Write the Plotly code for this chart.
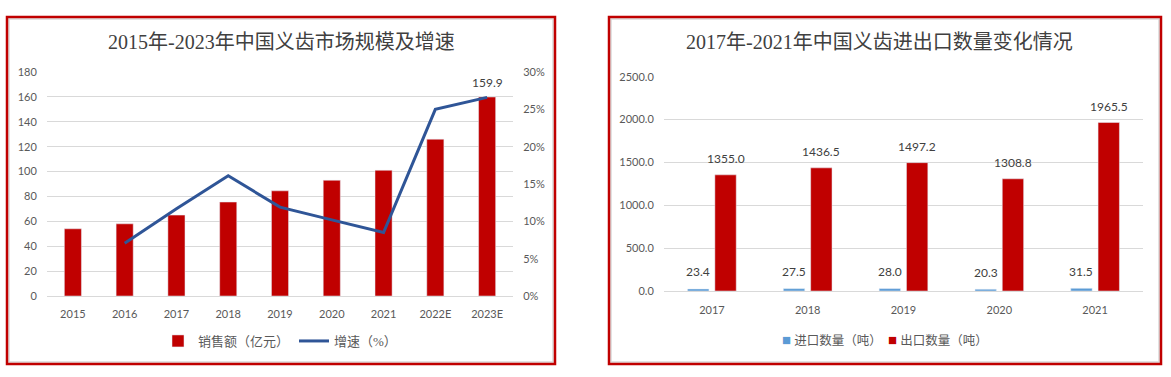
import plotly.graph_objects as go

# ---------------- data ----------------
years_left = ["2015", "2016", "2017", "2018", "2019", "2020", "2021", "2022E", "2023E"]
sales = [54, 58, 65, 75.5, 84.5, 93, 101, 126, 159.9]
growth = [None, 0.0705, 0.117, 0.161, 0.119, 0.102, 0.085, 0.250, 0.266]
sales_labels = ["", "", "", "", "", "", "101", "", "159.9"]

years_right = ["2017", "2018", "2019", "2020", "2021"]
imports = [23.4, 27.5, 28.0, 20.3, 31.5]
exports = [1355.0, 1436.5, 1497.2, 1308.8, 1965.5]

title_left = "2015年-2023年中国义齿市场规模及增速"
title_right = "2017年-2021年中国义齿进出口数量变化情况"
name_sales = "销售额（亿元）"
name_growth = "增速（%）"
name_import = "进口数量（吨）"
name_export = "出口数量（吨）"

# ---------------- styling ----------------
W, H = 1171, 377
RED = "#C00000"
BLUE_LINE = "#2F5597"
BLUE_BAR = "#5B9BD5"
GRID = "#D9D9D9"
TICK = "#595959"
TICKFONT = dict(family="Lato, Liberation Sans, sans-serif", size=11, color=TICK)
CJK = "Liberation Serif, Noto Sans CJK SC, serif"


def px(x):
    return x / W


def py(y):
    return 1 - y / H


fig = go.Figure()

# left chart
fig.add_trace(go.Bar(
    x=years_left, y=sales, name=name_sales, marker_color=RED,
    width=0.33, xaxis="x", yaxis="y", legend="legend",
))
fig.add_trace(go.Scatter(
    x=years_left, y=growth, name=name_growth, mode="lines",
    line=dict(color=BLUE_LINE, width=3), xaxis="x", yaxis="y2",
    legend="legend", connectgaps=False,
))

# right chart
fig.add_trace(go.Bar(
    x=years_right, y=imports, name=name_import, marker_color=BLUE_BAR,
    width=0.223, offset=-0.254, xaxis="x3", yaxis="y3", showlegend=False,
))
fig.add_trace(go.Bar(
    x=years_right, y=exports, name=name_export, marker_color=RED,
    width=0.223, offset=0.031, xaxis="x3", yaxis="y3", showlegend=False,
))

annotations = []
LABELFONT = dict(family=TICKFONT["family"], size=12, color="#404040")
# data labels left
for cat, val, lab in zip(years_left, sales, sales_labels):
    if lab:
        annotations.append(dict(x=cat, y=val, xref="x", yref="y", text=lab,
                                showarrow=False, yanchor="middle", yshift=15,
                                font=LABELFONT))
# data labels right
for i, cat in enumerate(years_right):
    annotations.append(dict(x=i - 0.1425, y=imports[i], xref="x3", yref="y3",
                            text=f"{imports[i]:.1f}", showarrow=False,
                            yanchor="middle", yshift=17, font=LABELFONT))
    annotations.append(dict(x=i + 0.1425, y=exports[i], xref="x3", yref="y3",
                            text=f"{exports[i]:.1f}", showarrow=False,
                            yanchor="middle", yshift=16, font=LABELFONT))

# titles
annotations.append(dict(x=px(281), y=py(42), xref="paper", yref="paper", text=title_left,
                        showarrow=False, xanchor="center", yanchor="middle",
                        font=dict(family=CJK, size=20, color="#404040")))
annotations.append(dict(x=px(879), y=py(42), xref="paper", yref="paper", text=title_right,
                        showarrow=False, xanchor="center", yanchor="middle",
                        font=dict(family=CJK, size=20, color="#404040")))

# compact legend for the right chart
for xpos, color, name in [(780, BLUE_BAR, name_import), (886, RED, name_export)]:
    annotations.append(dict(
        x=px(xpos), y=py(340), xref="paper", yref="paper", xanchor="left", yanchor="middle",
        showarrow=False,
        text=f'<span style="color:{color};font-size:15px">■</span> {name}',
        font=dict(family=CJK, size=12.5, color=TICK),
    ))

shapes = []
for x0, x1 in [(7, 555), (609, 1161)]:
    shapes.append(dict(type="rect", xref="paper", yref="paper",
                       x0=px(x0 + 2), x1=px(x1 - 2), y0=py(364 - 2), y1=py(17 + 2),
                       line=dict(color=GRID, width=1.5), fillcolor="rgba(0,0,0,0)", layer="below"))
    shapes.append(dict(type="rect", xref="paper", yref="paper",
                       x0=px(x0), x1=px(x1), y0=py(364), y1=py(17),
                       line=dict(color=RED, width=2.5), fillcolor="rgba(0,0,0,0)"))

axis_common = dict(showgrid=False, zeroline=False, tickfont=TICKFONT, fixedrange=True,
                   automargin=False)

fig.update_layout(
    width=W, height=H,
    margin=dict(l=0, r=0, t=0, b=0, pad=0, autoexpand=False),
    paper_bgcolor="white", plot_bgcolor="white",
    barmode="overlay",
    showlegend=True,
    xaxis=dict(domain=[px(47), px(513)], anchor="y", type="category",
               range=[-0.5, 8.5], showline=True, linecolor=GRID, linewidth=1,
               ticks="outside", ticklen=8, tickcolor="rgba(0,0,0,0)", **axis_common),
    yaxis=dict(domain=[py(296), py(72)], anchor="x", range=[0, 180], dtick=20,
               showgrid=True, gridcolor=GRID, gridwidth=1,
               ticks="outside", ticklen=7, tickcolor="rgba(0,0,0,0)",
               zeroline=False, tickfont=TICKFONT, fixedrange=True, automargin=False),
    yaxis2=dict(domain=[py(296), py(72)], anchor="x", overlaying="y", side="right",
                range=[0, 0.30], dtick=0.05, tickformat=".0%", showgrid=False,
                ticks="outside", ticklen=7, tickcolor="rgba(0,0,0,0)",
                zeroline=False, tickfont=TICKFONT, fixedrange=True, automargin=False),
    xaxis3=dict(domain=[px(664), px(1143)], anchor="y3", type="category",
                range=[-0.5, 4.5], showline=True, linecolor=GRID, linewidth=1,
                ticks="outside", ticklen=9, tickcolor="rgba(0,0,0,0)", **axis_common),
    yaxis3=dict(domain=[py(291), py(76.7)], anchor="x3", range=[0, 2500], dtick=500,
                tickformat=".1f", showgrid=True, gridcolor=GRID, gridwidth=1,
                ticks="outside", ticklen=7, tickcolor="rgba(0,0,0,0)",
                zeroline=False, tickfont=TICKFONT, fixedrange=True, automargin=False),
    legend=dict(orientation="h", x=px(280), y=py(341), xanchor="center", yanchor="middle",
                font=dict(family=CJK, size=13, color=TICK), bgcolor="rgba(0,0,0,0)",
                itemwidth=30, tracegroupgap=0),
    annotations=annotations,
    shapes=shapes,
)

fig.write_html(
    "out.html",
    config={"displayModeBar": False},
    post_script="document.body.style.margin='0';document.body.style.overflow='hidden';",
)
